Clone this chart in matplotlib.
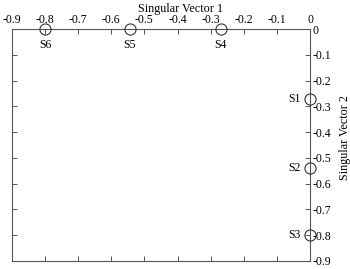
import matplotlib
matplotlib.use("Agg")
import matplotlib.pyplot as plt
import numpy as np

plt.rcParams['font.family'] = ['Liberation Serif', 'DejaVu Serif']

names = ["S1", "S2", "S3", "S4", "S5", "S6"]
sv1 = [0.0, 0.0, 0.0, -0.27, -0.545, -0.80]
sv2 = [-0.27, -0.54, -0.80, 0.0, 0.0, 0.0]
ticks = [-0.9, -0.8, -0.7, -0.6, -0.5, -0.4, -0.3, -0.2, -0.1, 0]
tick_labels = ["-0.9", "-0.8", "-0.7", "-0.6", "-0.5", "-0.4", "-0.3", "-0.2", "-0.1", "0"]

fig = plt.figure(figsize=(3.5, 2.69), dpi=100)
ax = fig.add_axes([0.034, 0.03, 0.852, 0.862])

ax.plot(sv1, sv2, linestyle='none', marker='o', markersize=8,
        markerfacecolor='none', markeredgecolor='#333333', markeredgewidth=0.8,
        clip_on=False, zorder=5)

for n, x, y in zip(names, sv1, sv2):
    if y == 0:
        ax.annotate(n, (x, y), xytext=(0, -7), textcoords='offset points',
                    ha='center', va='top', fontsize=8.5)
    else:
        ax.annotate(n, (x, y), xytext=(-7, 0), textcoords='offset points',
                    ha='right', va='center', fontsize=8.5)

ax.set_xlim(-0.9, 0)
ax.set_ylim(-0.9, 0)
ax.set_xticks(ticks)
ax.set_xticklabels(tick_labels)
ax.set_yticks(ticks)
ax.set_yticklabels(tick_labels)
ax.xaxis.tick_top()
ax.xaxis.set_label_position('top')
ax.yaxis.tick_right()
ax.yaxis.set_label_position('right')
ax.tick_params(axis='both', which='both', direction='in', length=3.5, width=0.7,
               color='#555555', labelsize=8.5, pad=2,
               top=True, bottom=True, left=True, right=True)
ax.tick_params(axis='x', labeltop=True, labelbottom=False)
ax.tick_params(axis='y', labelright=True, labelleft=False)
for s in ax.spines.values():
    s.set_color('#555555')
    s.set_linewidth(0.8)

ax.set_xlabel("Singular Vector 1", fontsize=8.7)
ax.xaxis.set_label_coords(0.565, 1.075)
ax.set_ylabel("Singular Vector 2", fontsize=8.7)
ax.yaxis.set_label_coords(1.097, 0.53)

fig.savefig("out.png", dpi=100)
